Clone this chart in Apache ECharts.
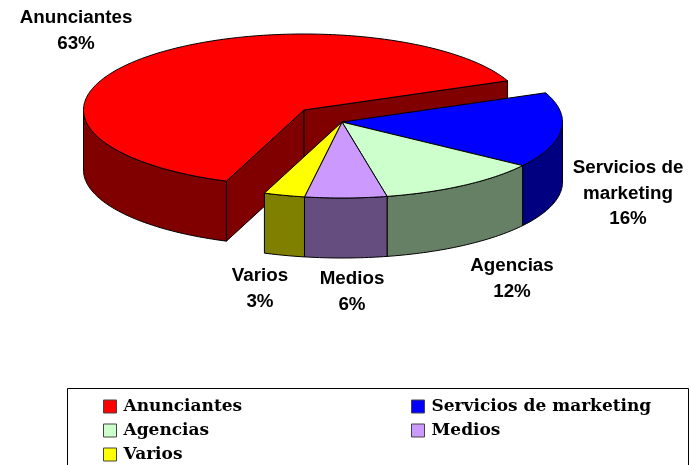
<!DOCTYPE html>
<html>
<head>
<meta charset="utf-8">
<style>
  html, body { margin: 0; padding: 0; background: #fff; }
  #main { width: 691px; height: 465px; }
</style>
<script src="https://cdn.jsdelivr.net/npm/echarts@6/dist/echarts.min.js"></script>
</head>
<body>
<div id="main"></div>
<script>
const categories = ['Anunciantes', 'Servicios de marketing', 'Agencias', 'Medios', 'Varios'];
const values = [63, 16, 12, 6, 3];
const topColors = ['#FF0000', '#0000FF', '#CCFFCC', '#CC99FF', '#FFFF00'];
const sideColors = ['#800000', '#000080', '#668066', '#664D80', '#808000'];

// pie geometry in pixels, angles are on the flattened ellipse
const cx = 342, cy = 122, rx = 220.5, ry = 76, depth = 60;
const startAngle = 110.6;
const explode = { 0: [-38, -12] };

// label anchors: centre x, first line y
const labelPos = [
  { x: 76, y: 18, lines: ['Anunciantes'] },
  { x: 628, y: 168, lines: ['Servicios de', 'marketing'] },
  { x: 512, y: 266, lines: ['Agencias'] },
  { x: 352, y: 279, lines: ['Medios'] },
  { x: 260, y: 276, lines: ['Varios'] }
];

const total = values.reduce((a, b) => a + b, 0);

function arc(x0, y0, from, to) {
  const pts = [];
  const n = Math.max(2, Math.ceil(Math.abs(to - from)));
  for (let i = 0; i <= n; i++) {
    const t = (from + (to - from) * i / n) * Math.PI / 180;
    pts.push([x0 + rx * Math.cos(t), y0 + ry * Math.sin(t)]);
  }
  return pts;
}

function face(points, fill) {
  return {
    type: 'polygon',
    shape: { points: points },
    style: { fill: fill, stroke: '#000', lineWidth: 1, lineJoin: 'round' }
  };
}

function sliceItem(index) {
  return function (params, api) {
    const before = values.slice(0, index).reduce((a, b) => a + b, 0);
    const from = startAngle + before / total * 360;
    const to = from + api.value(0) / total * 360;
    const off = explode[index] || [0, 0];
    const x0 = cx + off[0], y0 = cy + off[1];
    const children = [];

    // cut walls only show on the slice pulled out of the pie
    if (explode[index]) {
      [from, to].forEach(function (a) {
        const p = arc(x0, y0, a, a)[0];
        children.push(face([[x0, y0], p, [p[0], p[1] + depth], [x0, y0 + depth]], sideColors[index]));
      });
    }

    // outer wall, only the front half of the ellipse (0-180, 360-540)
    [0, 360].forEach(function (k) {
      const a = Math.max(from, k), b = Math.min(to, k + 180);
      if (b > a) {
        const rim = arc(x0, y0, a, b);
        const low = rim.map(p => [p[0], p[1] + depth]).reverse();
        children.push(face(rim.concat(low), sideColors[index]));
      }
    });

    children.push(face([[x0, y0]].concat(arc(x0, y0, from, to)), topColors[index]));

    const lab = labelPos[index];
    lab.lines.concat([api.value(0) + '%']).forEach(function (line, i) {
      children.push({
        type: 'text',
        style: {
          x: lab.x, y: lab.y + i * 25.5,
          text: line,
          fill: '#000',
          font: 'bold 18.8px "Liberation Sans"',
          align: 'center', verticalAlign: 'middle'
        }
      });
    });
    return { type: 'group', children: children };
  };
}

const legendBase = {
  orient: 'vertical',
  top: 393,
  height: 100,
  icon: 'rect',
  itemWidth: 13,
  itemHeight: 13,
  itemGap: 7,
  selectedMode: false,
  itemStyle: { borderColor: '#444', borderWidth: 1 },
  textStyle: { fontFamily: 'DejaVu Serif', fontWeight: 'bold', fontSize: 17, color: '#000', padding: [0, 0, 0, 2] }
};

const chart = echarts.init(document.getElementById('main'), null, { renderer: 'canvas' });
chart.setOption({
  animation: false,
  backgroundColor: '#fff',
  legend: [
    Object.assign({}, legendBase, { left: 98, data: [categories[0], categories[2], categories[4]] }),
    Object.assign({}, legendBase, { left: 406, data: [categories[1], categories[3]] })
  ],
  graphic: [{
    type: 'rect',
    silent: true,
    shape: { x: 67.5, y: 388.5, width: 621, height: 90 },
    style: { fill: 'none', stroke: '#000', lineWidth: 1 }
  }],
  series: categories.map(function (name, i) {
    return {
      type: 'custom',
      name: name,
      coordinateSystem: 'none',
      silent: true,
      itemStyle: { color: topColors[i] },
      data: [[values[i]]],
      renderItem: sliceItem(i)
    };
  })
});
</script>
</body>
</html>
